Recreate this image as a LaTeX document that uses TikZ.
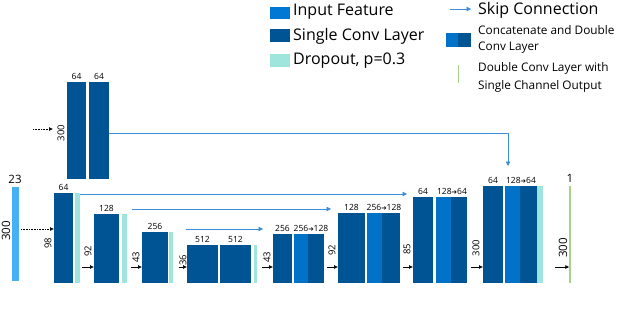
\documentclass[tikz,border=0pt]{standalone}
\usepackage{fontspec}
\setmainfont{Open Sans}
\newfontfamily\symf{DejaVu Sans}
\usetikzlibrary{arrows.meta,calc}
\definecolor{dk}{RGB}{0,84,147}
\definecolor{md}{RGB}{0,114,200}
\definecolor{inb}{RGB}{70,176,245}
\definecolor{lgin}{RGB}{0,120,212}
\definecolor{dro}{RGB}{160,228,222}
\definecolor{grn}{RGB}{169,209,142}
\definecolor{skc}{RGB}{60,142,218}
\newcommand\blk[6]{\node[blkbase,fill=#6,minimum width={(#4-#2)*1pt},minimum height={(#5-#3)*1pt},anchor=south west] (#1) at (#2,#5) {};}
\newcommand\ar{{\symf\fontsize{6.5}{8}\selectfont ➔}}
\begin{document}
\begin{tikzpicture}[x=1pt,y=-1pt,
  blkbase/.style={inner sep=0pt,outer sep=0pt,draw=none},
  lbl/.style={inner sep=0.5pt,font=\fontsize{8.5}{10}\selectfont,anchor=base},
  rlbl/.style={inner sep=0pt,font=\fontsize{9.5}{10}\selectfont,rotate=90},
  big/.style={inner sep=0pt,font=\fontsize{11.5}{12}\selectfont},
  shortarr/.style={-{Latex[length=4pt,width=4pt]},line width=0.6pt},
  dotarr/.style={densely dotted,-{Latex[length=4pt,width=4pt]},line width=0.6pt},
  skip/.style={skc,line width=0.7pt,-{Triangle[length=4.5pt,width=4.5pt]}},
  legtxt/.style={inner sep=0pt,anchor=west,font=\fontsize{16}{18}\selectfont},
  legsm/.style={inner sep=0pt,anchor=west,font=\fontsize{11.8}{13}\selectfont}]
\useasboundingbox (0,0) rectangle (640,309);

% ---------- legend ----------
\blk{lg1}{270}{7}{290}{19}{lgin}
\blk{lg2}{270}{29}{290}{42}{dk}
\blk{lg3}{270}{54}{290}{67}{dro}
\node[legtxt] (lt1) at (293,12) {Input Feature};
\node[legtxt] (lt2) at (293,36) {Single Conv Layer};
\node[legtxt] (lt3) at (293,61) {Dropout, p=0.3};
\coordinate (ls1) at (450,9);
\coordinate (ls2) at (471,9);
\draw[skip] (ls1) -- (ls2);
\node[legtxt] (lt4) at (478,10) {Skip Connection};
\blk{lc1}{446}{33}{458}{47}{md}
\blk{lc2}{458}{33}{471}{47}{dk}
\node[legsm] (lt5) at (478,30) {Concatenate and Double};
\node[legsm] (lt6) at (478,48) {Conv Layer};
\blk{lgg}{457.5}{65}{458.7}{83}{grn}
\node[legsm] (lt7) at (478,68) {Double Conv Layer with};
\node[legsm] (lt8) at (478,86) {Single Channel Output};

% ---------- top block ----------
\blk{t1}{67}{82}{86}{179}{dk}
\blk{t2}{89}{82}{109}{179}{dk}
\node[lbl] at ($(t1.north)+(0,-3)$) {64};
\node[lbl] at ($(t2.north)+(0,-3)$) {64};
\node[rlbl] (tl) at (61,133) {300};
\coordinate (ta) at (33,129);
\coordinate (tb) at (53,129);
\draw[dotarr] (ta) -- (tb);

% ---------- input ----------
\blk{inp}{12}{187}{19}{281}{inb}
\node[big,anchor=base] (il) at (15,183) {23};
\node[big,rotate=90] (il2) at (6,231) {300};

% ---------- encoder ----------
\blk{e1}{54}{193}{73}{283}{dk}
\blk{e1d}{75}{193}{80}{283}{dro}
\node[lbl] at ($(e1.north)+(0,-3)$) {64};
\node[rlbl] at (48,243) {98};
\coordinate (ia) at (21,229);
\draw[dotarr] (ia) -- (ia -| e1.west);

\blk{e2}{94}{214}{119}{283}{dk}
\blk{e2d}{122}{214}{127}{283}{dro}
\node[lbl] at ($(e2.north)+(0,-3)$) {128};
\node[rlbl] at (88,251) {92};
\coordinate (a2) at (82,267);
\draw[shortarr] (a2) -- (a2 -| e2.west);

\blk{e3}{142}{232}{168}{283}{dk}
\blk{e3d}{169}{232}{173}{283}{dro}
\node[lbl] at ($(e3.north)+(0,-3)$) {256};
\node[rlbl] at (136,257) {43};
\coordinate (a3) at (131,267);
\draw[shortarr] (a3) -- (a3 -| e3.west);

\blk{e4a}{187}{245}{218}{283}{dk}
\blk{e4b}{220}{245}{251}{283}{dk}
\blk{e4d}{254}{245}{257}{283}{dro}
\node[lbl] at ($(e4a.north)+(0,-3)$) {512};
\node[lbl] at ($(e4b.north)+(0,-3)$) {512};
\node[rlbl] at (183,260) {36};
\coordinate (a4) at (179,267);
\draw[shortarr] (a4) -- (a4 -| e4a.west);

% ---------- decoder ----------
\blk{d1a}{273}{234}{292}{283}{dk}
\blk{d1b}{294}{234}{308}{283}{md}
\blk{d1c}{308}{234}{324}{283}{dk}
\node[lbl] at ($(d1a.north)+(0,-3)$) {256};
\node[lbl] at ($(d1b.north east)+(3,-3)$) {256\ar128};
\node[rlbl] at (267,257) {43};
\coordinate (a5) at (262,267);
\draw[shortarr] (a5) -- (a5 -| d1a.west);

\blk{d2a}{338}{213}{365}{283}{dk}
\blk{d2b}{367}{213}{382}{283}{md}
\blk{d2c}{382}{213}{400}{283}{dk}
\node[lbl] at ($(d2a.north)+(0,-3)$) {128};
\node[lbl] at ($(d2b.north east)+(2,-3)$) {256\ar128};
\node[rlbl] at (332,250) {92};
\coordinate (a6) at (327,267);
\draw[shortarr] (a6) -- (a6 -| d2a.west);

\blk{d3a}{413}{197}{433}{283}{dk}
\blk{d3b}{436}{197}{451}{283}{md}
\blk{d3c}{451}{197}{467}{283}{dk}
\node[lbl] at ($(d3a.north)+(0,-3)$) {64};
\node[lbl] at ($(d3b.north east)+(1,-3)$) {128\ar64};
\node[rlbl] at (407,249) {85};
\coordinate (a7) at (403,267);
\draw[shortarr] (a7) -- (a7 -| d3a.west);

\blk{d4a}{483}{186}{503}{283}{dk}
\blk{d4b}{505}{186}{520}{283}{md}
\blk{d4c}{520}{186}{537}{283}{dk}
\blk{d4d}{537}{186}{543}{283}{dro}
\node[lbl] at ($(d4a.north)+(0,-3)$) {64};
\node[lbl] at ($(d4b.north east)+(1,-3)$) {128\ar64};
\node[rlbl] at (476,248) {300};
\coordinate (a8) at (471,267);
\draw[shortarr] (a8) -- (a8 -| d4a.west);

\blk{out}{569.3}{186}{570.8}{283}{grn}
\node[big,anchor=base] (ol) at (570,182) {1};
\node[big,rotate=90] (ol2) at (563,248) {300};
\coordinate (a9) at (555,267);
\draw[shortarr] (a9) -- (a9 -| out.west);

% ---------- skip connections ----------
\coordinate (s1) at (80,194);
\draw[skip,shorten >=6pt] (s1) -- (s1 -| d3a.west);
\coordinate (s2) at (132,209);
\draw[skip,shorten >=7pt] (s2) -- (s2 -| d2a.west);
\coordinate (s3) at (186,229);
\draw[skip,shorten >=10pt] (s3) -- (s3 -| d1a.west);
\coordinate (s0) at (t2.east |- 0,133);
\coordinate (sc) at (508,133);
\draw[skip,shorten >=20pt] (s0) -- (sc) -- (sc |- d4b.north);
\end{tikzpicture}
\end{document}
